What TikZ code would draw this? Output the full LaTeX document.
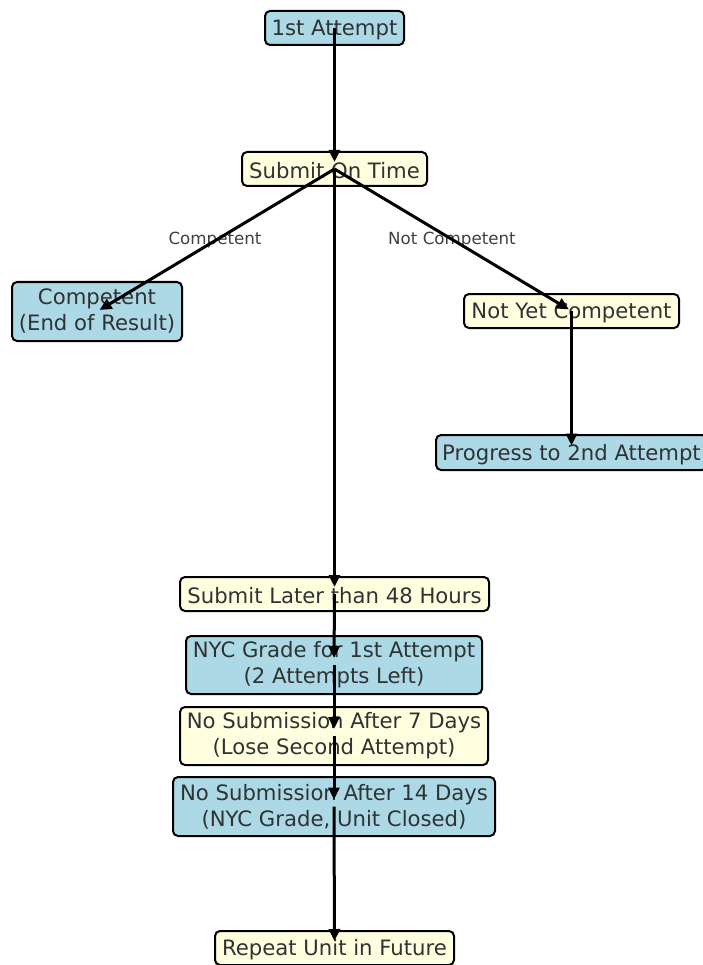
\documentclass[tikz,border=0pt]{standalone}
\usepackage{fontspec}
\setmainfont{DejaVu Sans}
\usetikzlibrary{arrows.meta}
\definecolor{nodeblue}{HTML}{ADD8E6}
\definecolor{nodeyellow}{HTML}{FFFFE0}
\definecolor{txt}{HTML}{2E3333}
\definecolor{lbl}{HTML}{404040}
\begin{document}
\begin{tikzpicture}[x=1pt,y=-1pt,
  box/.style={draw=black, line width=2pt, rounded corners=5pt,
    font=\fontsize{21.2}{26}\selectfont, text=txt, align=center, inner sep=0pt,
    execute at begin node={\rule{0pt}{20pt}}},
  bluebox/.style={box, fill=nodeblue},
  yellowbox/.style={box, fill=nodeyellow},
  arr/.style={draw=black, line width=3pt, -{Triangle[length=12pt,width=11pt]}, shorten >=7pt},
  diag/.style={arr, shorten >=3pt},
  elabel/.style={font=\fontsize{16.7}{20}\selectfont, text=lbl, inner sep=0pt}]
\useasboundingbox (0,0) rectangle (703,965);
\fill[white] (0,0) rectangle (703,965);
\node[bluebox, minimum width=139pt, minimum height=34pt] (a1) at (334.5,28) {1st Attempt};
\node[yellowbox, minimum width=185pt, minimum height=34pt] (sot) at (334.5,169) {Submit On Time};
\node[bluebox, minimum width=170pt, minimum height=59pt] (comp) at (97,311.5) {Competent\\(End of Result)};
\node[yellowbox, minimum width=215pt, minimum height=34pt] (nyc) at (571.5,311) {Not Yet Competent};
\node[bluebox, minimum width=271pt, minimum height=35pt] (prog) at (571.5,452.5) {Progress to 2nd Attempt};
\node[yellowbox, minimum width=309pt, minimum height=34pt] (later) at (334.5,594) {Submit Later than 48 Hours};
\node[bluebox, minimum width=296pt, minimum height=58pt] (grade) at (334,665) {NYC Grade for 1st Attempt\\(2 Attempts Left)};
\node[yellowbox, minimum width=308pt, minimum height=58pt] (ns7) at (334,736) {No Submission After 7 Days\\(Lose Second Attempt)};
\node[bluebox, minimum width=322pt, minimum height=59pt] (ns14) at (334,806.5) {No Submission After 14 Days\\(NYC Grade, Unit Closed)};
\node[yellowbox, minimum width=239pt, minimum height=34pt] (rep) at (334.5,948) {Repeat Unit in Future};
\node[elabel] (lc) at (215,240) {Competent};
\node[elabel] (lnc) at (452,240) {Not Competent};
\draw[arr] (a1.center) -- (sot.center);
\draw[diag] (sot.center) -- (comp.center);
\draw[diag] (sot.center) -- (nyc.center);
\draw[arr] (sot.center) -- (later.center);
\draw[arr] (nyc.center) -- (prog.center);
\draw[arr] (later.center) -- (grade.center);
\draw[arr] (grade.center) -- (ns7.center);
\draw[arr] (ns7.center) -- (ns14.center);
\draw[arr] (ns14.center) -- (rep.center);
\end{tikzpicture}
\end{document}
